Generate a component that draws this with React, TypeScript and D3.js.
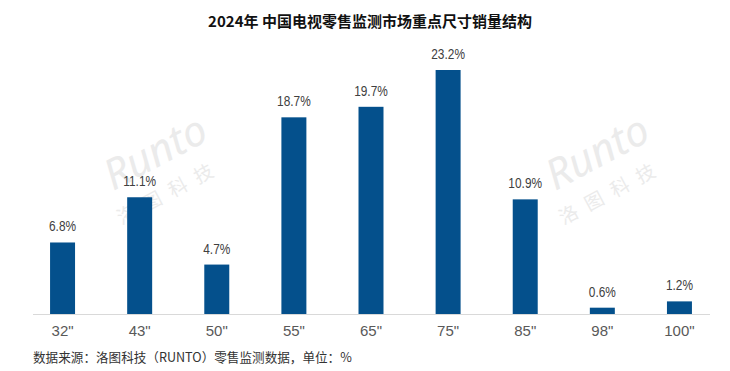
import React from 'react';
import * as d3 from 'd3';

const sizes = ['32"', '43"', '50"', '55"', '65"', '75"', '85"', '98"', '100"'];
const shares = [6.8, 11.1, 4.7, 18.7, 19.7, 23.2, 10.9, 0.6, 1.2];

const title = '2024年 中国电视零售监测市场重点尺寸销量结构';
const source = '数据来源：洛图科技（RUNTO）零售监测数据，单位：%';

const W = 730;
const H = 371;
const baseY = 314;

const App = () => {
  const x = d3.scaleBand<string>().domain(sizes).range([24, 718]).paddingInner(0.676).paddingOuter(0.338);
  const y = d3.scaleLinear().domain([0, 23.2]).range([baseY, 70]);
  const cx = (s: string) => (x(s) ?? 0) + x.bandwidth() / 2;

  const marks = [
    { x: 162, y: 165 },
    { x: 604, y: 165 },
  ];

  return (
    <svg width={W} height={H} style={{ position: 'absolute', left: 0, top: 0 }}>
      <rect width={W} height={H} fill="#fff" />

      {/* 水印 */}
      {marks.map((m, i) => (
        <g key={i} transform={`translate(${m.x},${m.y}) rotate(-28)`} fill="#ebebeb" fontFamily="Noto Sans, sans-serif">
          <text x={0} y={0} textAnchor="middle" fontSize={42} fontStyle="italic">Runto</text>
          <text x={-6} y={34} textAnchor="middle" fontSize={19} fontFamily="Noto Sans CJK SC" letterSpacing={10}>洛图科技</text>
        </g>
      ))}

      <text x={370} y={27} textAnchor="middle" fontSize={15} fontWeight="bold"
        fontFamily="'Noto Sans CJK SC', sans-serif" fill="#111">{title}</text>

      {sizes.map((s, i) => (
        <rect key={s} x={x(s)} y={y(shares[i])} width={x.bandwidth()} height={baseY - y(shares[i])} fill="#04508c" />
      ))}

      {sizes.map((s, i) => (
        <g key={s} transform={`translate(${cx(s)},${y(shares[i]) - 11}) scale(0.82,1)`}>
          <text textAnchor="middle" fontSize={14.5} fontFamily="'Liberation Sans', Arial, sans-serif" fill="#404040">
            {shares[i].toFixed(1)}%
          </text>
        </g>
      ))}

      <line x1={33} x2={710} y1={baseY + 0.5} y2={baseY + 0.5} stroke="#d9d9d9" />

      {sizes.map((s) => (
        <text key={s} x={cx(s)} y={336} textAnchor="middle"
          fontSize={15} fontFamily="'Liberation Sans', Arial, sans-serif" fill="#595959">{s}</text>
      ))}

      <text x={33} y={362} fontSize={12.6} fontFamily="'Noto Sans CJK SC', sans-serif" fill="#333">{source}</text>
    </svg>
  );
};

export default App;
